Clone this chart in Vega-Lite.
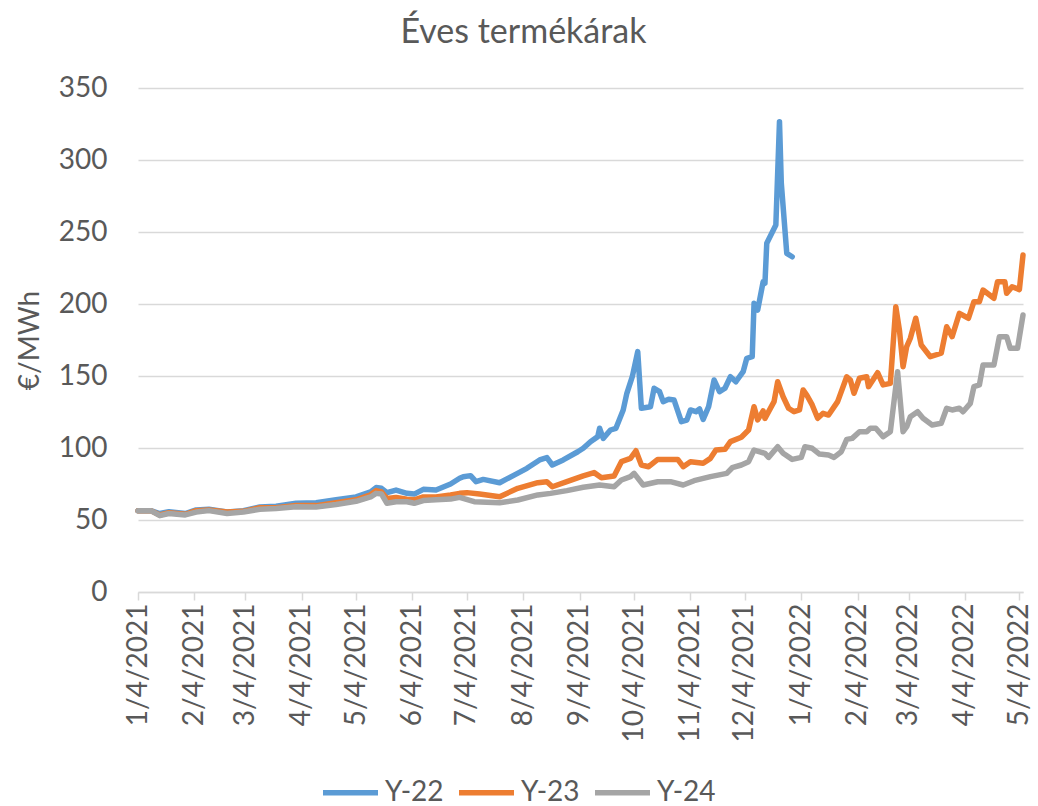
{
"$schema": "https://vega.github.io/schema/vega-lite/v6.json",
"width": 885, "height": 504,
"autosize": {"type": "none"},
"padding": {"left": 138, "top": 88, "right": 15, "bottom": 214},
"background": "white",
"title": {"text": "Éves termékárak", "font": "Lato", "fontSize": 34, "fontWeight": "normal", "color": "#595959", "anchor": "middle", "frame": "group", "dx": -57, "offset": 24},
"config": {"view": {"stroke": null}, "font": "Lato"},
"data": {"values": [
{"s":"Y-22","d":"2021-01-04","v":56.5},{"s":"Y-22","d":"2021-01-11","v":56.5},{"s":"Y-22","d":"2021-01-16","v":54.5},{"s":"Y-22","d":"2021-01-21","v":55.8},{"s":"Y-22","d":"2021-01-30","v":54.5},{"s":"Y-22","d":"2021-02-05","v":57},{"s":"Y-22","d":"2021-02-12","v":57.5},{"s":"Y-22","d":"2021-02-22","v":55.5},{"s":"Y-22","d":"2021-03-03","v":56.5},{"s":"Y-22","d":"2021-03-12","v":59},{"s":"Y-22","d":"2021-03-21","v":59.5},{"s":"Y-22","d":"2021-04-01","v":61.6},{"s":"Y-22","d":"2021-04-12","v":62},{"s":"Y-22","d":"2021-04-23","v":64},{"s":"Y-22","d":"2021-05-04","v":66},{"s":"Y-22","d":"2021-05-12","v":69.5},{"s":"Y-22","d":"2021-05-15","v":72.5},{"s":"Y-22","d":"2021-05-18","v":72},{"s":"Y-22","d":"2021-05-21","v":69},{"s":"Y-22","d":"2021-05-26","v":70.8},{"s":"Y-22","d":"2021-06-01","v":68.5},{"s":"Y-22","d":"2021-06-05","v":68},{"s":"Y-22","d":"2021-06-10","v":71.3},{"s":"Y-22","d":"2021-06-17","v":70.8},{"s":"Y-22","d":"2021-06-25","v":75},{"s":"Y-22","d":"2021-06-30","v":79},
{"s":"Y-22","d":"2021-07-02","v":80.1},{"s":"Y-22","d":"2021-07-06","v":80.8},{"s":"Y-22","d":"2021-07-09","v":76.6},{"s":"Y-22","d":"2021-07-13","v":78.2},{"s":"Y-22","d":"2021-07-22","v":75.9},{"s":"Y-22","d":"2021-07-30","v":81.2},{"s":"Y-22","d":"2021-08-06","v":85.9},{"s":"Y-22","d":"2021-08-13","v":91.7},{"s":"Y-22","d":"2021-08-17","v":93.3},{"s":"Y-22","d":"2021-08-20","v":88.2},{"s":"Y-22","d":"2021-08-26","v":91.7},{"s":"Y-22","d":"2021-09-03","v":97.4},{"s":"Y-22","d":"2021-09-06","v":99.8},{"s":"Y-22","d":"2021-09-10","v":104.4},{"s":"Y-22","d":"2021-09-14","v":107.9},{"s":"Y-22","d":"2021-09-15","v":113.7},{"s":"Y-22","d":"2021-09-17","v":106.7},{"s":"Y-22","d":"2021-09-21","v":112.5},{"s":"Y-22","d":"2021-09-24","v":113.7},{"s":"Y-22","d":"2021-09-28","v":126.4},{"s":"Y-22","d":"2021-09-30","v":138},{"s":"Y-22","d":"2021-10-03","v":149.5},{"s":"Y-22","d":"2021-10-06","v":166.9},{"s":"Y-22","d":"2021-10-08","v":127.6},{"s":"Y-22","d":"2021-10-13","v":128.7},{"s":"Y-22","d":"2021-10-15","v":141.5},{"s":"Y-22","d":"2021-10-18","v":139.1},{"s":"Y-22","d":"2021-10-20","v":132.2},{"s":"Y-22","d":"2021-10-23","v":133.8},{"s":"Y-22","d":"2021-10-26","v":133.3},{"s":"Y-22","d":"2021-10-30","v":118.3},{"s":"Y-22","d":"2021-11-02","v":119.4},{"s":"Y-22","d":"2021-11-04","v":126.4},{"s":"Y-22","d":"2021-11-07","v":125.2},{"s":"Y-22","d":"2021-11-09","v":127.1},{"s":"Y-22","d":"2021-11-11","v":119.9},{"s":"Y-22","d":"2021-11-14","v":128.7},{"s":"Y-22","d":"2021-11-17","v":147.2},{"s":"Y-22","d":"2021-11-20","v":139.1},{"s":"Y-22","d":"2021-11-23","v":141.5},{"s":"Y-22","d":"2021-11-26","v":149.5},{"s":"Y-22","d":"2021-11-29","v":146},{"s":"Y-22","d":"2021-12-03","v":153},{"s":"Y-22","d":"2021-12-05","v":162.3},{"s":"Y-22","d":"2021-12-08","v":163.4},{"s":"Y-22","d":"2021-12-09","v":200.5},{"s":"Y-22","d":"2021-12-11","v":195.8},{"s":"Y-22","d":"2021-12-14","v":215.5},{"s":"Y-22","d":"2021-12-15","v":214.4},{"s":"Y-22","d":"2021-12-16","v":242.2},{"s":"Y-22","d":"2021-12-21","v":254.9},{"s":"Y-22","d":"2021-12-23","v":326.6},{"s":"Y-22","d":"2021-12-24","v":283.8},{"s":"Y-22","d":"2021-12-27","v":235.2},{"s":"Y-22","d":"2021-12-30","v":232.8},
{"s":"Y-23","d":"2021-01-04","v":56.5},{"s":"Y-23","d":"2021-01-11","v":56.5},{"s":"Y-23","d":"2021-01-16","v":53.5},{"s":"Y-23","d":"2021-01-21","v":55},{"s":"Y-23","d":"2021-01-30","v":54},{"s":"Y-23","d":"2021-02-05","v":56.5},{"s":"Y-23","d":"2021-02-12","v":57},{"s":"Y-23","d":"2021-02-22","v":55.5},{"s":"Y-23","d":"2021-03-03","v":56},{"s":"Y-23","d":"2021-03-12","v":58.5},{"s":"Y-23","d":"2021-03-21","v":58.5},{"s":"Y-23","d":"2021-04-01","v":60},{"s":"Y-23","d":"2021-04-12","v":60},{"s":"Y-23","d":"2021-04-23","v":62},{"s":"Y-23","d":"2021-05-04","v":64},{"s":"Y-23","d":"2021-05-12","v":67.5},{"s":"Y-23","d":"2021-05-15","v":70.4},{"s":"Y-23","d":"2021-05-18","v":69.5},{"s":"Y-23","d":"2021-05-21","v":65},{"s":"Y-23","d":"2021-05-26","v":65.7},{"s":"Y-23","d":"2021-06-01","v":64.5},{"s":"Y-23","d":"2021-06-05","v":64},{"s":"Y-23","d":"2021-06-10","v":66},{"s":"Y-23","d":"2021-06-17","v":66},{"s":"Y-23","d":"2021-06-25","v":67.4},{"s":"Y-23","d":"2021-06-30","v":68.5},
{"s":"Y-23","d":"2021-07-04","v":69},{"s":"Y-23","d":"2021-07-11","v":68},{"s":"Y-23","d":"2021-07-22","v":66.2},{"s":"Y-23","d":"2021-08-01","v":72},{"s":"Y-23","d":"2021-08-12","v":75.9},{"s":"Y-23","d":"2021-08-17","v":76.6},{"s":"Y-23","d":"2021-08-20","v":73.1},{"s":"Y-23","d":"2021-08-28","v":76.6},{"s":"Y-23","d":"2021-09-06","v":80.6},{"s":"Y-23","d":"2021-09-12","v":82.9},{"s":"Y-23","d":"2021-09-16","v":79.4},{"s":"Y-23","d":"2021-09-23","v":80.6},{"s":"Y-23","d":"2021-09-27","v":90.5},{"s":"Y-23","d":"2021-10-02","v":92.8},{"s":"Y-23","d":"2021-10-05","v":98.1},{"s":"Y-23","d":"2021-10-08","v":88.2},{"s":"Y-23","d":"2021-10-12","v":87},{"s":"Y-23","d":"2021-10-17","v":92.1},{"s":"Y-23","d":"2021-10-28","v":92.1},{"s":"Y-23","d":"2021-10-31","v":87},{"s":"Y-23","d":"2021-11-04","v":90.5},{"s":"Y-23","d":"2021-11-11","v":89.4},{"s":"Y-23","d":"2021-11-15","v":92.8},{"s":"Y-23","d":"2021-11-18","v":98.6},{"s":"Y-23","d":"2021-11-23","v":99.1},{"s":"Y-23","d":"2021-11-26","v":104.4},{"s":"Y-23","d":"2021-12-02","v":107.5},{"s":"Y-23","d":"2021-12-06","v":112.5},{"s":"Y-23","d":"2021-12-09","v":128.7},{"s":"Y-23","d":"2021-12-11","v":119.5},{"s":"Y-23","d":"2021-12-14","v":125.8},{"s":"Y-23","d":"2021-12-15","v":120.6},{"s":"Y-23","d":"2021-12-20","v":132.2},{"s":"Y-23","d":"2021-12-22","v":146},{"s":"Y-23","d":"2021-12-25","v":135.6},{"s":"Y-23","d":"2021-12-28","v":127.6},{"s":"Y-23","d":"2021-12-31","v":125.2},{"s":"Y-23","d":"2022-01-03","v":126.4},{"s":"Y-23","d":"2022-01-05","v":140.3},{"s":"Y-23","d":"2022-01-07","v":136.8},{"s":"Y-23","d":"2022-01-10","v":129.9},{"s":"Y-23","d":"2022-01-13","v":120.6},{"s":"Y-23","d":"2022-01-16","v":124.1},{"s":"Y-23","d":"2022-01-19","v":122.9},{"s":"Y-23","d":"2022-01-24","v":132.2},{"s":"Y-23","d":"2022-01-29","v":149.5},{"s":"Y-23","d":"2022-01-31","v":147.2},{"s":"Y-23","d":"2022-02-02","v":138},{"s":"Y-23","d":"2022-02-05","v":148.4},{"s":"Y-23","d":"2022-02-09","v":149.5},{"s":"Y-23","d":"2022-02-10","v":142.6},{"s":"Y-23","d":"2022-02-15","v":152.3},{"s":"Y-23","d":"2022-02-18","v":143.8},{"s":"Y-23","d":"2022-02-22","v":144.9},{"s":"Y-23","d":"2022-02-25","v":198.1},{"s":"Y-23","d":"2022-02-27","v":181.9},{"s":"Y-23","d":"2022-03-01","v":156.5},{"s":"Y-23","d":"2022-03-03","v":170.4},{"s":"Y-23","d":"2022-03-05","v":176.2},{"s":"Y-23","d":"2022-03-08","v":190.1},{"s":"Y-23","d":"2022-03-11","v":171.5},{"s":"Y-23","d":"2022-03-16","v":163.4},{"s":"Y-23","d":"2022-03-22","v":165.8},{"s":"Y-23","d":"2022-03-25","v":184.2},{"s":"Y-23","d":"2022-03-28","v":177.3},{"s":"Y-23","d":"2022-04-01","v":193.5},{"s":"Y-23","d":"2022-04-06","v":190.1},{"s":"Y-23","d":"2022-04-09","v":201.6},{"s":"Y-23","d":"2022-04-12","v":201.6},{"s":"Y-23","d":"2022-04-14","v":209.7},{"s":"Y-23","d":"2022-04-20","v":204},{"s":"Y-23","d":"2022-04-22","v":215.5},{"s":"Y-23","d":"2022-04-26","v":215.5},{"s":"Y-23","d":"2022-04-27","v":207.4},{"s":"Y-23","d":"2022-04-30","v":212},{"s":"Y-23","d":"2022-05-04","v":210},{"s":"Y-23","d":"2022-05-06","v":234},
{"s":"Y-24","d":"2021-01-04","v":56.5},{"s":"Y-24","d":"2021-01-11","v":56.5},{"s":"Y-24","d":"2021-01-16","v":53},{"s":"Y-24","d":"2021-01-21","v":54.5},{"s":"Y-24","d":"2021-01-30","v":53.5},{"s":"Y-24","d":"2021-02-05","v":55.5},{"s":"Y-24","d":"2021-02-12","v":56.5},{"s":"Y-24","d":"2021-02-22","v":54.5},{"s":"Y-24","d":"2021-03-03","v":55.5},{"s":"Y-24","d":"2021-03-12","v":57.5},{"s":"Y-24","d":"2021-03-21","v":58},{"s":"Y-24","d":"2021-04-01","v":59.2},{"s":"Y-24","d":"2021-04-12","v":59},{"s":"Y-24","d":"2021-04-23","v":60.8},{"s":"Y-24","d":"2021-05-04","v":63},{"s":"Y-24","d":"2021-05-12","v":66},{"s":"Y-24","d":"2021-05-15","v":68.5},{"s":"Y-24","d":"2021-05-18","v":68},{"s":"Y-24","d":"2021-05-21","v":61.6},{"s":"Y-24","d":"2021-05-26","v":62.7},{"s":"Y-24","d":"2021-06-01","v":62.7},{"s":"Y-24","d":"2021-06-05","v":61.6},{"s":"Y-24","d":"2021-06-10","v":63.5},{"s":"Y-24","d":"2021-06-17","v":64},{"s":"Y-24","d":"2021-06-25","v":64.5},{"s":"Y-24","d":"2021-06-30","v":65.7},
{"s":"Y-24","d":"2021-07-08","v":62.7},{"s":"Y-24","d":"2021-07-22","v":62},{"s":"Y-24","d":"2021-08-01","v":63.9},{"s":"Y-24","d":"2021-08-12","v":67.4},{"s":"Y-24","d":"2021-08-19","v":68.5},{"s":"Y-24","d":"2021-08-28","v":70.4},{"s":"Y-24","d":"2021-09-06","v":72.7},{"s":"Y-24","d":"2021-09-15","v":74.3},{"s":"Y-24","d":"2021-09-23","v":73.1},{"s":"Y-24","d":"2021-09-27","v":77.8},{"s":"Y-24","d":"2021-10-02","v":80.1},{"s":"Y-24","d":"2021-10-04","v":82.4},{"s":"Y-24","d":"2021-10-09","v":74.3},{"s":"Y-24","d":"2021-10-17","v":76.6},{"s":"Y-24","d":"2021-10-24","v":76.6},{"s":"Y-24","d":"2021-10-31","v":74.3},{"s":"Y-24","d":"2021-11-06","v":77.3},{"s":"Y-24","d":"2021-11-15","v":80.1},{"s":"Y-24","d":"2021-11-24","v":82.4},{"s":"Y-24","d":"2021-11-27","v":86.3},{"s":"Y-24","d":"2021-12-02","v":88.2},{"s":"Y-24","d":"2021-12-06","v":90.5},{"s":"Y-24","d":"2021-12-09","v":98.6},{"s":"Y-24","d":"2021-12-15","v":96.3},{"s":"Y-24","d":"2021-12-17","v":93.5},{"s":"Y-24","d":"2021-12-22","v":100.9},{"s":"Y-24","d":"2021-12-25","v":96.3},{"s":"Y-24","d":"2021-12-30","v":92.1},{"s":"Y-24","d":"2022-01-04","v":93.5},{"s":"Y-24","d":"2022-01-06","v":100.9},{"s":"Y-24","d":"2022-01-10","v":99.8},{"s":"Y-24","d":"2022-01-14","v":95.8},{"s":"Y-24","d":"2022-01-19","v":95.1},{"s":"Y-24","d":"2022-01-22","v":93.5},{"s":"Y-24","d":"2022-01-26","v":97.4},{"s":"Y-24","d":"2022-01-29","v":106},{"s":"Y-24","d":"2022-02-01","v":106.7},{"s":"Y-24","d":"2022-02-05","v":111.3},{"s":"Y-24","d":"2022-02-09","v":111.3},{"s":"Y-24","d":"2022-02-11","v":113.7},{"s":"Y-24","d":"2022-02-14","v":113.7},{"s":"Y-24","d":"2022-02-18","v":107.9},{"s":"Y-24","d":"2022-02-22","v":111.3},{"s":"Y-24","d":"2022-02-26","v":153},{"s":"Y-24","d":"2022-03-01","v":111.3},{"s":"Y-24","d":"2022-03-03","v":114.8},{"s":"Y-24","d":"2022-03-05","v":121.7},{"s":"Y-24","d":"2022-03-09","v":125.2},{"s":"Y-24","d":"2022-03-12","v":120.6},{"s":"Y-24","d":"2022-03-17","v":116},{"s":"Y-24","d":"2022-03-22","v":117.2},{"s":"Y-24","d":"2022-03-25","v":127.6},{"s":"Y-24","d":"2022-03-28","v":126.4},{"s":"Y-24","d":"2022-04-01","v":127.6},{"s":"Y-24","d":"2022-04-03","v":125.2},{"s":"Y-24","d":"2022-04-07","v":131},{"s":"Y-24","d":"2022-04-09","v":142.6},{"s":"Y-24","d":"2022-04-12","v":143.8},{"s":"Y-24","d":"2022-04-14","v":157.6},{"s":"Y-24","d":"2022-04-20","v":157.6},{"s":"Y-24","d":"2022-04-23","v":177.3},{"s":"Y-24","d":"2022-04-27","v":177.3},{"s":"Y-24","d":"2022-04-29","v":169.2},{"s":"Y-24","d":"2022-05-03","v":169.2},{"s":"Y-24","d":"2022-05-06","v":192.4}
]},
"mark": {"type": "line", "strokeWidth": 5.5, "strokeJoin": "round", "strokeCap": "round"},
"encoding": {
"x": {"field": "d", "type": "temporal",
 "scale": {"type": "utc", "domain": [{"year": 2021, "month": 1, "date": 4, "utc": true}, {"year": 2022, "month": 5, "date": 6, "utc": true}]},
 "axis": {"title": null, "grid": false, "format": "%-m/%-d/%Y", "labelAngle": -90, "labelFont": "Lato", "labelFontSize": 28, "labelColor": "#595959", "labelPadding": 3, "labelOverlap": false, "labelFlush": false, "labelBound": false, "domainColor": "#D9D9D9", "domainWidth": 1.5, "tickColor": "#D9D9D9", "tickWidth": 1.5, "tickSize": 8,
 "values": [{"year":2021,"month":1,"date":4,"utc":true},{"year":2021,"month":2,"date":4,"utc":true},{"year":2021,"month":3,"date":4,"utc":true},{"year":2021,"month":4,"date":4,"utc":true},{"year":2021,"month":5,"date":4,"utc":true},{"year":2021,"month":6,"date":4,"utc":true},{"year":2021,"month":7,"date":4,"utc":true},{"year":2021,"month":8,"date":4,"utc":true},{"year":2021,"month":9,"date":4,"utc":true},{"year":2021,"month":10,"date":4,"utc":true},{"year":2021,"month":11,"date":4,"utc":true},{"year":2021,"month":12,"date":4,"utc":true},{"year":2022,"month":1,"date":4,"utc":true},{"year":2022,"month":2,"date":4,"utc":true},{"year":2022,"month":3,"date":4,"utc":true},{"year":2022,"month":4,"date":4,"utc":true},{"year":2022,"month":5,"date":4,"utc":true}]}},
"y": {"field": "v", "type": "quantitative",
 "scale": {"domain": [0, 350], "nice": false},
 "axis": {"title": "€/MWh", "titleFont": "Lato", "titleFontSize": 28, "titleFontWeight": "normal", "titleColor": "#595959", "titlePadding": 14, "values": [0, 50, 100, 150, 200, 250, 300, 350], "labelFont": "Lato", "labelFontSize": 28, "labelColor": "#595959", "labelPadding": 31, "ticks": false, "tickSize": 0, "domain": false, "gridColor": "#D9D9D9", "gridWidth": 1.5}},
"color": {"field": "s", "type": "nominal",
 "scale": {"domain": ["Y-22", "Y-23", "Y-24"], "range": ["#5B9BD5", "#ED7D31", "#A5A5A5"]},
 "legend": {"title": null, "orient": "none", "legendX": 182, "legendY": 674, "direction": "horizontal", "symbolType": "stroke", "symbolSize": 3025, "symbolStrokeWidth": 5.5, "labelFont": "Lato", "labelFontSize": 28, "labelColor": "#595959", "labelOffset": 4, "columnPadding": 4, "padding": 0}}
}
}
